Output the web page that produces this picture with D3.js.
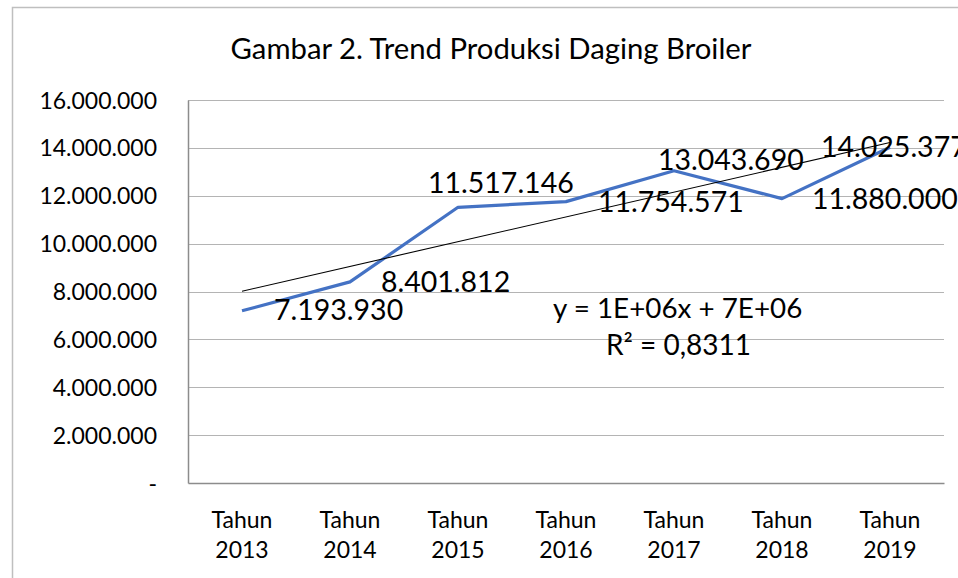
<!DOCTYPE html>
<html><head><meta charset="utf-8">
<script src="https://cdn.jsdelivr.net/npm/d3@7"></script>
<style>body{margin:0;background:#fff}svg{display:block}text{font-family:Lato,"Noto Sans",sans-serif;fill:#000}</style>
</head><body><svg id="c" width="958" height="578"></svg>
<script>
const categories = ["Tahun 2013","Tahun 2014","Tahun 2015","Tahun 2016","Tahun 2017","Tahun 2018","Tahun 2019"];
const values = [7193930, 8401812, 11517146, 11754571, 13043690, 11880000, 14025377];
const yTicks = [0, 2000000, 4000000, 6000000, 8000000, 10000000, 12000000, 14000000, 16000000];
const title = "Gambar 2. Trend Produksi Daging Broiler";
const equationLines = ["y = 1E+06x + 7E+06", "R² = 0,8311"];
// label placement offsets (px) relative to each point
const labelDx = [32, 31, -30, 32, -16, 30, -69];
const labelDy = [9, 10, -14, 10, -1, 10, 10];

const svg = d3.select("#c");
const m = {left:188, right:944, top:100, bottom:483};

svg.append("rect").attr("x",12.5).attr("y",7.5).attr("width",980).attr("height",620)
  .attr("fill","#fff").attr("stroke","#bfbfbf").attr("stroke-width",1.5);

const x = d3.scaleBand().domain(categories).range([m.left, m.right]);
const y = d3.scaleLinear().domain([0,16000000]).range([m.bottom, m.top]);
const fmt = v => v === 0 ? "-" : d3.format(",")(v).replace(/,/g,".");

// gridlines
svg.append("g").selectAll("line").data(yTicks.filter(d=>d>0)).join("line")
  .attr("x1",m.left).attr("x2",m.right)
  .attr("y1",d=>Math.round(y(d))+0.5).attr("y2",d=>Math.round(y(d))+0.5)
  .attr("stroke","#b4b4b4").attr("stroke-width",1);

// y axis
const ya = svg.append("g").attr("transform",`translate(${m.left},0)`)
  .call(d3.axisLeft(y).tickValues(yTicks).tickFormat(fmt).tickSize(0).tickPadding(31));
ya.select(".domain").attr("stroke","#8c8c8c").attr("stroke-width",1.5);
ya.selectAll("text").style("font-size","23px").attr("dy","0.35em");

// x axis
const xa = svg.append("g").attr("transform",`translate(0,${m.bottom})`)
  .call(d3.axisBottom(x).tickSize(0).tickFormat(""));
xa.select(".domain").attr("stroke","#8c8c8c").attr("stroke-width",1.5);
xa.selectAll(".tick").each(function(d){
  const parts = d.split(" ");
  const t = d3.select(this).append("text").attr("text-anchor","middle").style("font-size","23px");
  t.append("tspan").attr("x",0).attr("y",45).text(parts[0]);
  t.append("tspan").attr("x",0).attr("y",75).text(parts[1]);
});

// title
svg.append("text").attr("x",491).attr("y",59).attr("text-anchor","middle")
  .style("font-size","29.3px").text(title);

const cx = i => x(categories[i]) + x.bandwidth()/2;

// series line
svg.append("path").datum(values)
  .attr("d", d3.line().x((d,i)=>cx(i)).y(d=>y(d)))
  .attr("fill","none").attr("stroke","#4472C4").attr("stroke-width",3.2).attr("stroke-linejoin","round");

// linear trendline (least squares on x = 1..n)
const n = values.length;
const xs = d3.range(1,n+1);
const mx = d3.mean(xs), my = d3.mean(values);
const slope = d3.sum(xs.map((xi,i)=>(xi-mx)*(values[i]-my))) / d3.sum(xs.map(xi=>(xi-mx)**2));
const icpt = my - slope*mx;
svg.append("line")
  .attr("x1",cx(0)).attr("y1",y(slope*1+icpt))
  .attr("x2",cx(n-1)).attr("y2",y(slope*n+icpt))
  .attr("stroke","#000").attr("stroke-width",1.1);

// data labels
svg.append("g").selectAll("text").data(values).join("text")
  .attr("x",(d,i)=>cx(i)+labelDx[i]).attr("y",(d,i)=>y(d)+labelDy[i])
  .style("font-size","28.5px").text(d=>fmt(d));

// equation
svg.append("text").attr("x",553).attr("y",318).style("font-size","27.8px").text(equationLines[0]);
svg.append("text").attr("x",606).attr("y",355).style("font-size","28px").text(equationLines[1]);
</script></body></html>
